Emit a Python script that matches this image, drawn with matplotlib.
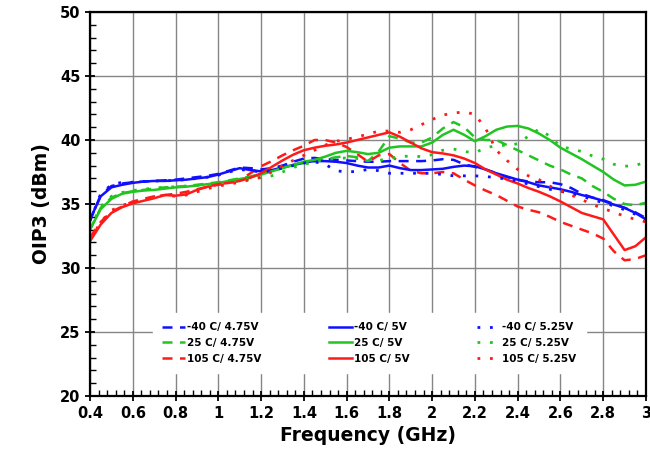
import numpy as np
import matplotlib
matplotlib.use("Agg")
import matplotlib.pyplot as plt
from matplotlib.ticker import MultipleLocator

# Frecuencia (GHz)
freq = [0.40, 0.45, 0.50, 0.55, 0.60, 0.65, 0.70, 0.75, 0.80, 0.85, 0.90, 0.95,
        1.00, 1.05, 1.10, 1.15, 1.20, 1.25, 1.30, 1.35, 1.40, 1.45, 1.50, 1.55,
        1.60, 1.65, 1.70, 1.75, 1.80, 1.85, 1.90, 1.95, 2.00, 2.05, 2.10, 2.15,
        2.20, 2.25, 2.30, 2.35, 2.40, 2.45, 2.50, 2.55, 2.60, 2.65, 2.70, 2.75,
        2.80, 2.85, 2.90, 2.95, 3.00]

# OIP3 (dBm) por temperatura / voltaje
m40_475 = [33.7, 35.7, 36.4, 36.6, 36.7, 36.75, 36.8, 36.85, 36.9, 37.0, 37.1, 37.2,
           37.35, 37.6, 37.85, 37.8, 37.7, 37.8, 38.0, 38.3, 38.55, 38.6, 38.5, 38.45,
           38.4, 38.35, 38.3, 38.3, 38.35, 38.35, 38.35, 38.35, 38.4, 38.5, 38.45, 38.1,
           37.9, 37.7, 37.4, 37.1, 36.9, 36.75, 36.7, 36.7, 36.55, 36.25, 35.8, 35.5,
           35.3, 35.0, 34.7, 34.35, 33.9]
m40_500 = [33.8, 35.6, 36.3, 36.5, 36.65, 36.75, 36.8, 36.8, 36.85, 36.9, 37.0, 37.1,
           37.3, 37.55, 37.8, 37.65, 37.55, 37.65, 37.85, 38.05, 38.25, 38.35, 38.35, 38.3,
           38.2, 38.0, 37.85, 37.85, 38.0, 37.8, 37.65, 37.65, 37.7, 37.75, 37.9, 38.0,
           37.95, 37.7, 37.4, 37.15, 36.9, 36.7, 36.45, 36.3, 36.15, 35.95, 35.7, 35.5,
           35.25, 34.95, 34.7, 34.3, 33.8]
m40_525 = [33.7, 35.8, 36.5, 36.7, 36.7, 36.75, 36.8, 36.8, 36.85, 36.9, 37.0, 37.1,
           37.25, 37.5, 37.7, 37.6, 37.5, 37.6, 37.8, 38.0, 38.2, 38.3, 38.1, 37.6,
           37.5, 37.55, 37.7, 37.6, 37.4, 37.4, 37.4, 37.4, 37.4, 37.3, 37.2, 37.2,
           37.2, 37.15, 37.05, 36.95, 36.8, 36.55, 36.35, 36.15, 36.0, 35.8, 35.6, 35.35,
           35.1, 34.85, 34.55, 34.2, 33.8]
t25_475 = [33.0, 34.7, 35.5, 35.85, 36.0, 36.1, 36.2, 36.3, 36.35, 36.4, 36.5, 36.6,
           36.7, 36.85, 37.0, 37.15, 37.35, 37.6, 37.85, 38.05, 38.2, 38.35, 38.5, 38.65,
           38.75, 38.65, 38.35, 39.1, 40.3, 40.1, 39.8, 39.8, 40.2, 40.9, 41.4, 41.0,
           40.2, 40.0, 40.0, 39.6, 39.2, 38.8, 38.4, 38.0, 37.7, 37.3, 37.0, 36.4,
           35.95, 35.4, 35.0, 34.9, 35.1]
t25_500 = [33.0, 34.6, 35.4, 35.8, 35.95, 36.05, 36.1, 36.2, 36.3, 36.35, 36.45, 36.55,
           36.65, 36.8, 36.95, 37.1, 37.3, 37.55, 37.8, 38.05, 38.3, 38.45, 38.7, 39.0,
           39.15, 39.05, 38.9, 39.0, 39.4, 39.5, 39.5, 39.5, 39.8, 40.4, 40.8, 40.4,
           39.9, 40.3, 40.8, 41.05, 41.1, 40.9, 40.5, 40.0, 39.4, 38.95, 38.5, 38.0,
           37.5, 36.9, 36.45, 36.5, 36.75]
t25_525 = [33.1, 34.8, 35.6, 35.9, 36.05, 36.15, 36.25, 36.3, 36.35, 36.4, 36.45, 36.5,
           36.55, 36.65, 36.8, 36.95, 37.05, 37.2, 37.5, 37.85, 38.1, 38.3, 38.5, 38.55,
           38.6, 38.55, 38.4, 38.4, 38.55, 38.7, 38.75, 38.7, 38.85, 39.2, 39.3, 39.1,
           39.0, 39.4, 39.55, 39.6, 39.7, 40.3, 40.85, 40.3, 39.5, 39.3, 39.1, 38.75,
           38.5, 38.1, 37.95, 38.0, 38.3]
t105_475 = [32.4, 33.6, 34.4, 34.8, 35.2, 35.4, 35.6, 35.7, 35.8, 35.95, 36.15, 36.35,
            36.5, 36.65, 36.85, 37.4, 37.95, 38.35, 38.8, 39.2, 39.55, 40.0, 40.0, 39.8,
            39.45, 38.9, 38.3, 38.8, 38.9, 38.2, 37.6, 37.4, 37.4, 37.5, 37.4, 36.9,
            36.45, 36.05, 35.7, 35.25, 34.8, 34.55, 34.35, 34.0, 33.6, 33.3, 33.0, 32.7,
            32.3, 31.3, 30.6, 30.7, 31.0]
t105_500 = [32.1, 33.4, 34.3, 34.75, 35.05, 35.25, 35.45, 35.7, 35.65, 35.75, 36.1, 36.35,
            36.55, 36.65, 36.8, 37.05, 37.4, 37.9, 38.4, 38.85, 39.2, 39.4, 39.55, 39.65,
            39.8, 40.0, 40.2, 40.4, 40.6, 40.25, 39.8, 39.35, 39.05, 38.95, 38.8, 38.55,
            38.2, 37.7, 37.3, 36.9, 36.6, 36.25, 35.95, 35.6, 35.2, 34.75, 34.3, 34.05,
            33.8, 32.6, 31.4, 31.7, 32.4]
t105_525 = [32.2, 33.6, 34.5, 34.9, 35.1, 35.35, 35.55, 35.7, 35.6, 35.7, 35.95, 36.2,
            36.4, 36.55, 36.7, 36.9, 37.1, 37.5, 38.0, 38.4, 38.8, 39.2, 39.6, 39.9,
            40.05, 40.25, 40.45, 40.7, 40.7, 40.6, 40.8, 41.2, 41.6, 41.95, 42.1, 42.2,
            42.0, 40.9, 39.2, 38.4, 37.7, 37.2, 36.9, 36.4, 36.05, 35.7, 35.35, 34.95,
            34.65, 34.35, 34.05, 33.8, 33.6]

azul = "#1010ff"
verde = "#22c422"
rojo = "#ff1a1a"
guion = (0, (4, 3))
punto = (0, (1, 3.5))

fig = plt.figure(figsize=(6.5, 4.58), dpi=100)
ax = fig.add_axes([0.1385, 0.1354, 0.8553, 0.8384])

# orden por columnas de la leyenda: 4.75V, 5V, 5.25V
ax.plot(freq, m40_475, color=azul, ls=guion, lw=1.8, label="-40 C/ 4.75V")
ax.plot(freq, t25_475, color=verde, ls=guion, lw=1.8, label="25 C/ 4.75V")
ax.plot(freq, t105_475, color=rojo, ls=guion, lw=1.8, label="105 C/ 4.75V")
ax.plot(freq, m40_500, color=azul, lw=1.8, label="-40 C/ 5V")
ax.plot(freq, t25_500, color=verde, lw=1.8, label="25 C/ 5V")
ax.plot(freq, t105_500, color=rojo, lw=1.8, label="105 C/ 5V")
ax.plot(freq, m40_525, color=azul, ls=punto, lw=2.0, label="-40 C/ 5.25V")
ax.plot(freq, t25_525, color=verde, ls=punto, lw=2.0, label="25 C/ 5.25V")
ax.plot(freq, t105_525, color=rojo, ls=punto, lw=2.0, label="105 C/ 5.25V")

ax.set_xlim(0.4, 3.0)
ax.set_ylim(20, 50)
ax.xaxis.set_minor_locator(MultipleLocator(0.04))
ax.yaxis.set_major_locator(MultipleLocator(5))
ax.yaxis.set_minor_locator(MultipleLocator(1))
ax.set_xticks(np.arange(0.4, 3.01, 0.2))
ax.set_xticklabels(["0.4", "0.6", "0.8", "1", "1.2", "1.4", "1.6", "1.8",
                    "2", "2.2", "2.4", "2.6", "2.8", "3"])
ax.grid(True, which="major", color="#858585", lw=1.0)
ax.set_axisbelow(True)
ax.tick_params(which="major", direction="inout", length=7, width=1.3, labelsize=10.5)
ax.tick_params(which="minor", direction="in", length=4, width=1.0)
for lab in ax.get_xticklabels() + ax.get_yticklabels():
    lab.set_fontweight("bold")
for s in ax.spines.values():
    s.set_linewidth(1.6)

ax.set_xlabel("Frequency (GHz)", fontsize=13.5, fontweight="bold", labelpad=4)
ax.set_ylabel("OIP3 (dBm)", fontsize=13.5, fontweight="bold", labelpad=6)

leg = ax.legend(ncol=3, loc="center", bbox_to_anchor=(0.568, 0.251),
                bbox_transform=fig.transFigure, frameon=True, fancybox=False,
                edgecolor="white", framealpha=1.0, handlelength=2.2,
                handletextpad=0.2, columnspacing=6.5, labelspacing=0.55,
                borderpad=0.9, prop={"weight": "bold", "size": 7.5})

plt.savefig("out.png", dpi=100)
